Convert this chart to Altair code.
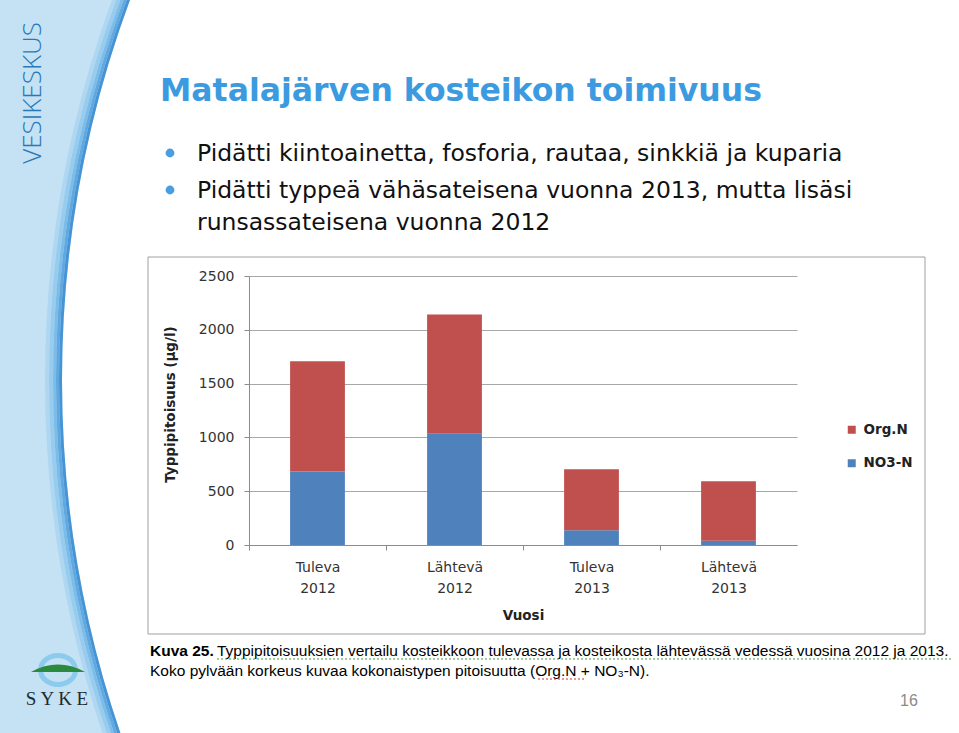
import altair as alt
import pandas as pd

# ---------------- data ----------------
categories = ["Tuleva 2012", "Lähtevä 2012", "Tuleva 2013", "Lähtevä 2013"]
series = ["Org.N", "NO3-N"]
no3_n = [683, 1034, 137, 40]
org_n = [1025, 1109, 568, 553]
y_ticks = [0, 500, 1000, 1500, 2000, 2500]
series_colors = ["#c0504d", "#4f81bd"]

title_text = "Matalajärven kosteikon toimivuus"
bullet_lines = [
    "Pidätti kiintoainetta, fosforia, rautaa, sinkkiä ja kuparia",
    "Pidätti typpeä vähäsateisena vuonna 2013, mutta lisäsi",
    "runsassateisena vuonna 2012",
]
caption_bold = "Kuva 25."
caption_line1 = ("Typpipitoisuuksien vertailu kosteikkoon tulevassa ja kosteikosta "
                 "lähtevässä vedessä vuosina 2012 ja 2013.")
caption_line2 = "Koko pylvään korkeus kuvaa kokonaistypen pitoisuutta (Org.N + NO\u2083-N)."
side_text = "VESIKESKUS"
logo_text = "S  Y  K  E"
page_no = "16"

rows = []
for c, a, b in zip(categories, no3_n, org_n):
    rows.append({"kohde": c, "sarja": "NO3-N", "arvo": a, "jarj": 0})
    rows.append({"kohde": c, "sarja": "Org.N", "arvo": b, "jarj": 1})
df = pd.DataFrame(rows)
one = pd.DataFrame({"k": [0]})

# ---------------- layout helpers ----------------
OX, OY = 249, 276          # plot-area origin on the page
W, H = 548, 269            # plot-area size
PAGE_W, PAGE_H = 959, 733


def px(v):
    return alt.value(v - OX)


def py(v):
    return alt.value(v - OY)


layers = []

# curved light-blue band on the left: thick rings outside a big disc
CX, CY, R = 1158, 380, 1096
BIG = 1400
layers.append(
    alt.Chart(one).mark_point(shape="circle", filled=False,
                              size=(2 * (R + BIG / 2)) ** 2,
                              color="#c4e2f4", strokeWidth=BIG, opacity=1)
    .encode(x=px(CX), y=py(CY))
)
for mid, wdt, col in [(15, 4, "#b0d7f1"), (11, 4, "#98ccee"), (7.5, 3, "#7cbce8"),
                      (4.5, 3, "#5fa8e0"), (1.5, 3, "#4694d5")]:
    d = 2 * (R + mid)
    layers.append(
        alt.Chart(one).mark_point(shape="circle", filled=False, size=d * d,
                                  color=col, strokeWidth=wdt, opacity=1)
        .encode(x=px(CX), y=py(CY))
    )

# chart frame (outline only, so the axes behind marks stay visible)
layers.append(
    alt.Chart(one).mark_rect(filled=False, color="#a0a0a0", strokeWidth=1)
    .encode(x=px(148), x2=px(925), y=py(257), y2=py(634))
)

# ---------------- bars ----------------
bars = alt.Chart(df).mark_bar().encode(
    x=alt.X(
        "kohde:N", sort=categories,
        scale=alt.Scale(paddingInner=0.6, paddingOuter=0.3),
        axis=alt.Axis(
            title="Vuosi", labelAngle=0,
            labelExpr="split(datum.label, ' ')",
            labelFont="DejaVu Sans", labelFontSize=14, labelColor="#333333",
            labelLineHeight=21, labelBaseline="top", labelPadding=10,
            domainColor="#8c8c8c", tickColor="#8c8c8c", tickSize=5,
            tickOffset=-68.5, labelOffset=68.5,
            titleFont="DejaVu Sans", titleFontSize=13.5, titleFontWeight="bold",
            titleColor="#222222", titleX=274, titleY=70, titleAlign="center",
            titleBaseline="middle",
        ),
    ),
    y=alt.Y(
        "arvo:Q", stack="zero",
        scale=alt.Scale(domain=[0, 2500], nice=False),
        axis=alt.Axis(
            title="Typpipitoisuus (\u00b5g/l)", values=y_ticks, format="d",
            labelFont="DejaVu Sans", labelFontSize=14, labelColor="#333333",
            labelPadding=10, tickSize=5, tickColor="#8c8c8c",
            domainColor="#8c8c8c", gridColor="#a8a8a8", grid=True,
            titleFont="DejaVu Sans", titleFontSize=13.5, titleFontWeight="bold",
            titleColor="#222222", titleAngle=270, titleX=-79, titleY=128,
            titleAlign="center", titleBaseline="middle",
        ),
    ),
    color=alt.Color(
        "sarja:N",
        scale=alt.Scale(domain=series, range=series_colors),
        legend=alt.Legend(
            title=None, orient="none", legendX=596, legendY=147,
            symbolType="square", symbolSize=64, symbolStrokeWidth=0,
            labelFont="DejaVu Sans", labelFontSize=13.5, labelFontWeight="bold",
            labelColor="#222222", rowPadding=18.5, padding=0, labelOffset=5,
        ),
    ),
    order=alt.Order("jarj:Q"),
)
layers.append(bars)

# ---------------- slide texts ----------------
layers.append(
    alt.Chart(one).mark_text(text=title_text, align="left", baseline="alphabetic",
                             font="DejaVu Sans", fontSize=31.5, fontWeight="bold",
                             color="#3c9be0")
    .encode(x=px(160), y=py(101))
)
for line, yb in zip(bullet_lines, [161, 198, 230]):
    layers.append(
        alt.Chart(one).mark_text(text=line, align="left", baseline="alphabetic",
                                 font="DejaVu Sans", fontSize=23.5, color="#111111")
        .encode(x=px(197), y=py(yb))
    )
for yb in [153, 190]:
    layers.append(
        alt.Chart(one).mark_point(shape="circle", filled=True, size=78,
                                  color="#4a9ee0", opacity=1)
        .encode(x=px(170), y=py(yb))
    )

# caption
layers.append(
    alt.Chart(one).mark_text(text=caption_bold, align="left", baseline="alphabetic",
                             font="Liberation Sans", fontSize=15.5, fontWeight="bold",
                             color="#000000")
    .encode(x=px(150), y=py(656))
)
layers.append(
    alt.Chart(one).mark_text(text=caption_line1, align="left", baseline="alphabetic",
                             font="Liberation Sans", fontSize=15.5, color="#000000")
    .encode(x=px(217), y=py(656))
)
layers.append(
    alt.Chart(one).mark_text(text=caption_line2, align="left", baseline="alphabetic",
                             font="Liberation Sans", fontSize=15.5, color="#000000")
    .encode(x=px(150), y=py(676))
)
# spell-check squiggles
layers.append(
    alt.Chart(one).mark_rule(color="#3f9f3f", strokeWidth=1.2, strokeDash=[2, 2])
    .encode(x=px(217), x2=px(952), y=py(659))
)
layers.append(
    alt.Chart(one).mark_rule(color="#d03030", strokeWidth=1.2, strokeDash=[2, 2])
    .encode(x=px(538), x2=px(584), y=py(679))
)

# page number
layers.append(
    alt.Chart(one).mark_text(text=page_no, align="center", baseline="alphabetic",
                             font="Liberation Sans", fontSize=16, color="#8a8a8a")
    .encode(x=px(909), y=py(706))
)

# side label
layers.append(
    alt.Chart(one).mark_text(text=side_text, align="center", baseline="middle",
                             angle=270, font="Open Sans", fontSize=26,
                             fontWeight=300, color="#2b78b8")
    .encode(x=px(33), y=py(93))
)

# SYKE logo
layers.append(
    alt.Chart(one).mark_point(
        shape="M -1 0 A 1 0.83 0 1 1 1 0 A 1 0.83 0 1 1 -1 0 Z",
        filled=False, size=35 * 35, color="#8ccbee", strokeWidth=5, opacity=1)
    .encode(x=px(58), y=py(670))
)
layers.append(
    alt.Chart(one).mark_point(
        shape="M -1 0 Q 0 -0.55 1 0 Z",
        filled=True, size=54 * 54, color="#2a8a3e", opacity=1, strokeWidth=0)
    .encode(x=px(58), y=py(672))
)
layers.append(
    alt.Chart(one).mark_text(text=logo_text, align="center", baseline="alphabetic",
                             font="Liberation Serif", fontSize=19, color="#1f2a33")
    .encode(x=px(57), y=py(705))
)

chart = alt.layer(*layers).properties(
    width=W, height=H,
    autosize=alt.AutoSizeParams(type="none"),
    padding={"left": OX, "top": OY, "right": PAGE_W - OX - W, "bottom": PAGE_H - OY - H},
    background="#ffffff",
).configure_view(stroke="transparent")

chart.save("out.html", embed_options={"renderer": "svg", "actions": False})
